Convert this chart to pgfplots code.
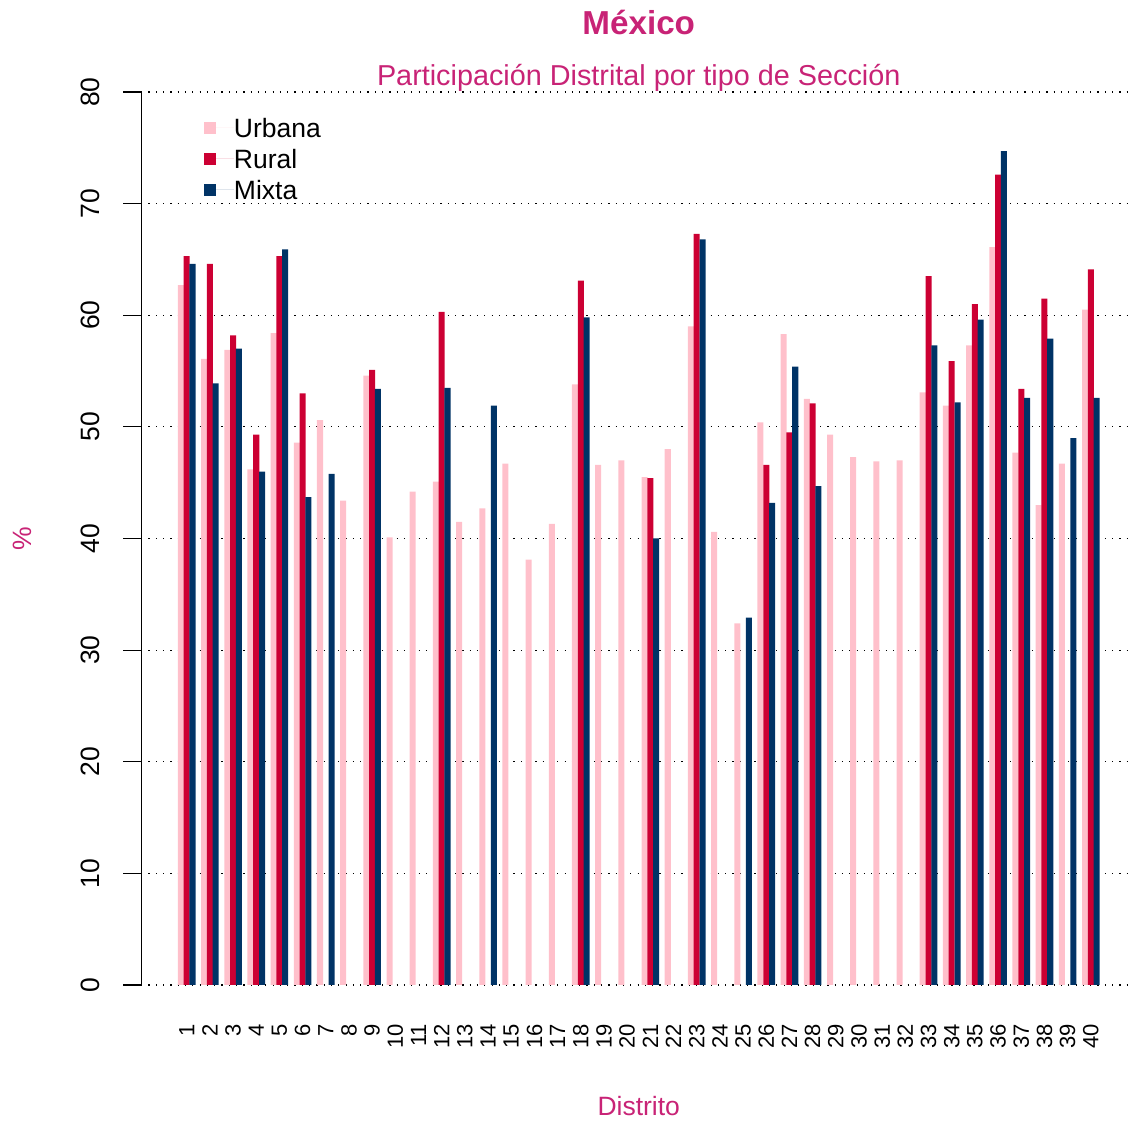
\documentclass[border=0pt]{standalone}
\usepackage{pgfplots}
\pgfplotsset{compat=1.18}
\usepackage{pgfplotstable}
\usepackage{fontspec}
\setmainfont{Liberation Sans}
\definecolor{urb}{RGB}{255,192,203}
\definecolor{rur}{RGB}{204,0,51}
\definecolor{mix}{RGB}{0,51,102}
\definecolor{titc}{RGB}{200,35,118}

\pgfplotstableread{
i U R M
1 62.7 65.3 64.6
2 56.1 64.6 53.9
3 56.9 58.2 57.0
4 46.2 49.3 46.0
5 58.4 65.3 65.9
6 48.6 53.0 43.7
7 50.6 nan 45.8
8 43.4 nan nan
9 54.6 55.1 53.4
10 40.1 nan nan
11 44.2 nan nan
12 45.1 60.3 53.5
13 41.5 nan nan
14 42.7 nan 51.9
15 46.7 nan nan
16 38.1 nan nan
17 41.3 nan nan
18 53.8 63.1 59.8
19 46.6 nan nan
20 47.0 nan nan
21 45.5 45.4 40.0
22 48.0 nan nan
23 59.0 67.3 66.8
24 40.6 nan nan
25 32.4 nan 32.9
26 50.4 46.6 43.2
27 58.3 49.5 55.4
28 52.5 52.1 44.7
29 49.3 nan nan
30 47.3 nan nan
31 46.9 nan nan
32 47.0 nan nan
33 53.1 63.5 57.3
34 51.9 55.9 52.2
35 57.3 61.0 59.6
36 66.1 72.6 74.7
37 47.7 53.4 52.6
38 43.0 61.5 57.9
39 46.7 nan 49.0
40 60.5 64.1 52.6
}\datatable

\begin{document}
\begin{tikzpicture}
\useasboundingbox (-70.575pt,-49.65pt) rectangle (495.925pt,510.35pt);
\begin{axis}[
  at={(0pt,0pt)}, anchor=south west,
  scale only axis,
  width=497.6pt, height=482.2pt,
  xmin=-0.965, xmax=41.965,
  ymin=-3.2, ymax=83.2,
  clip=false,
  axis lines=left,
  axis line style={draw=none},
  /pgf/number format/assume math mode=true,
  xtick={1,...,40},
  xtick style={draw=none},
  xticklabel style={rotate=90, anchor=east, inner sep=1pt, font=\fontsize{11}{13}\selectfont},
  xticklabel shift=-8.5pt,
  ytick={0,10,...,80},
  tick align=outside,
  major tick length=9pt,
  ytick style={black, line width=0.6pt},
  yticklabel style={rotate=90, anchor=base, font=\fontsize{13.25}{15}\selectfont},
  yticklabel shift=11.6pt,
  ymajorgrids,
  major grid style={black, line width=0.6pt, dash pattern=on 0.6pt off 3.05pt},
  legend style={at={(axis description cs:0.0631,0.9353)}, anchor=north west,
    draw=none, fill=none, inner sep=0pt, outer sep=0pt,
    row sep=6.2pt, column sep=0pt,
    nodes={inner sep=0pt, text height=9.3pt, text depth=0pt},
    font=\fontsize{13.25}{15}\selectfont},
  legend cell align=left,
]
\addplot[ybar, bar width=0.26, bar shift=-0.25, fill=urb, draw=none,
  legend image code/.code={\path[fill=urb] (0pt,-3pt) rectangle (6pt,3pt); \path (6pt,0pt) -- (15pt,0pt);}]
  table[x=i, y=U] {\datatable};
\addplot[ybar, bar width=0.26, bar shift=0, fill=rur, draw=none,
  legend image code/.code={\path[fill=rur] (0pt,-3pt) rectangle (6pt,3pt); \path (6pt,0pt) -- (15pt,0pt);}]
  table[x=i, y=R] {\datatable};
\addplot[ybar, bar width=0.26, bar shift=0.25, fill=mix, draw=none,
  legend image code/.code={\path[fill=mix] (0pt,-3pt) rectangle (6pt,3pt); \path (6pt,0pt) -- (15pt,0pt);}]
  table[x=i, y=M] {\datatable};
\addplot[black, line width=0.6pt, no marks, forget plot] coordinates {(-0.965,0) (-0.965,80)};
\legend{Urbana, Rural, Mixta}
\end{axis}
\node[anchor=base, text=titc, font=\bfseries\fontsize{16.6}{19}\selectfont] at (248.8pt,492.85pt) {México};
\node[anchor=base, text=titc, font=\fontsize{14.4}{17}\selectfont] at (248.8pt,467.6pt) {Participación Distrital por tipo de Sección};
\node[anchor=base, text=titc, font=\fontsize{13.25}{15}\selectfont] at (248.8pt,-47.15pt) {Distrito};
\node[anchor=base, rotate=90, text=titc, font=\fontsize{13.25}{15}\selectfont] at (-54.6pt,241.1pt) {\%};
\end{tikzpicture}
\end{document}
